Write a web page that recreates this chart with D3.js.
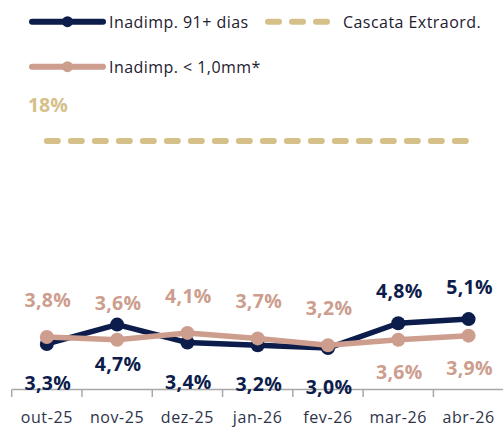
<!DOCTYPE html>
<html><head><meta charset="utf-8">
<script src="https://cdn.jsdelivr.net/npm/d3@7"></script>
<style>
html,body{margin:0;padding:0;background:#fff;}
svg{display:block;font-family:"Open Sans",sans-serif;}
</style></head>
<body><svg id="c" width="503" height="427"></svg>
<script>
const categories = ["out-25","nov-25","dez-25","jan-26","fev-26","mar-26","abr-26"];
const inad91 = [3.3,4.7,3.4,3.2,3.0,4.8,5.1];
const inad1mm = [3.8,3.6,4.1,3.7,3.2,3.6,3.9];
const cascata = [18,18,18,18,18,18,18];
const inad91LabelPos = ["below","below","below","below","below","above","above"];
const inad1mmLabelPos = ["above","above","above","above","above","below","below"];
const seriesNames = ["Inadimp. 91+ dias","Cascata Extraord.","Inadimp. < 1,0mm*"];

const NAVY="#0c1d4b", ROSE="#cd9d8d", GOLD="#d5c08a";
const svg=d3.select("#c");
const x=d3.scaleBand().domain(categories).range([11.7,503.7]).padding(0);
const y=d3.scaleLinear().domain([0,18]).range([389.5,141]);
const cx=d=>x(d)+x.bandwidth()/2;
const fmt=v=>d3.format(".1f")(v).replace(".",",")+"%";

// axis
const ax=svg.append("g").attr("transform","translate(0,389.5)")
  .call(d3.axisBottom(x).tickSize(0).tickPadding(0));
ax.select(".domain").remove();
ax.selectAll(".tick text").remove();
svg.append("line").attr("x1",11.7).attr("x2",503).attr("y1",389.5).attr("y2",389.5)
  .attr("stroke","#a8a8a8").attr("stroke-width",1.5);
svg.selectAll(".tk").data(d3.range(categories.length)).enter().append("line")
  .attr("x1",i=>11.7+i*x.bandwidth()).attr("x2",i=>11.7+i*x.bandwidth())
  .attr("y1",389.5).attr("y2",397).attr("stroke","#a8a8a8").attr("stroke-width",1.5);
svg.selectAll(".tl").data(categories).enter().append("text")
  .attr("x",d=>cx(d)).attr("y",423).attr("text-anchor","middle")
  .attr("font-size",16).attr("letter-spacing",0.6).attr("fill","#2e3348").text(d=>d);

// cascata dashed
const line=d3.line().x((d,i)=>cx(categories[i])).y(d=>y(d));
svg.append("path").datum(cascata).attr("d",line).attr("fill","none")
  .attr("stroke",GOLD).attr("stroke-width",6).attr("stroke-linecap","round")
  .attr("stroke-dasharray","11,13");
svg.append("text").attr("x",cx(categories[0])+1).attr("y",y(18)-29).attr("text-anchor","middle")
  .attr("font-size",19.5).attr("font-weight",700).attr("fill",GOLD).text(fmt(18).replace(",0",""));

function series(vals,color,pos,offAbove,offBelow){
  svg.append("path").datum(vals).attr("d",line).attr("fill","none")
    .attr("stroke",color).attr("stroke-width",5.5).attr("stroke-linejoin","round");
  svg.selectAll(null).data(vals).enter().append("circle")
    .attr("cx",(d,i)=>cx(categories[i])).attr("cy",d=>y(d)).attr("r",7).attr("fill",color);
  return ()=>svg.selectAll(null).data(vals).enter().append("text")
    .attr("x",(d,i)=>cx(categories[i])+1)
    .attr("y",(d,i)=>y(d)+(pos[i]==="above"?offAbove:offBelow))
    .attr("text-anchor","middle").attr("font-size",19.5).attr("font-weight",700)
    .attr("letter-spacing",0.3).attr("fill",color).text(d=>fmt(d));
}
const l1=series(inad91,NAVY,inad91LabelPos,-25,46);
const l2=series(inad1mm,ROSE,inad1mmLabelPos,-30,39);
l1();l2();

// legend
function legLine(x0,yy,color){
  const g=svg.append("g");
  g.append("line").attr("x1",x0).attr("x2",x0+71).attr("y1",yy).attr("y2",yy)
    .attr("stroke",color).attr("stroke-width",6).attr("stroke-linecap","round");
  g.append("circle").attr("cx",x0+35.5).attr("cy",yy).attr("r",5.5).attr("fill",color);
}
const legFont=16, legSp=0.45;
legLine(32,21.7,NAVY);
svg.append("text").attr("x",109).attr("y",27.5).attr("font-size",legFont).attr("letter-spacing",legSp).attr("fill","#1e2030").text(seriesNames[0]);
svg.append("line").attr("x1",268).attr("x2",330).attr("y1",21.7).attr("y2",21.7)
  .attr("stroke",GOLD).attr("stroke-width",6).attr("stroke-linecap","round").attr("stroke-dasharray","11,13");
svg.append("text").attr("x",343).attr("y",27.5).attr("font-size",legFont).attr("letter-spacing",legSp).attr("fill","#1e2030").text(seriesNames[1]);
legLine(32,66.7,ROSE);
svg.append("text").attr("x",109).attr("y",72.5).attr("font-size",legFont).attr("letter-spacing",legSp).attr("fill","#1e2030").text(seriesNames[2]);
</script></body></html>
